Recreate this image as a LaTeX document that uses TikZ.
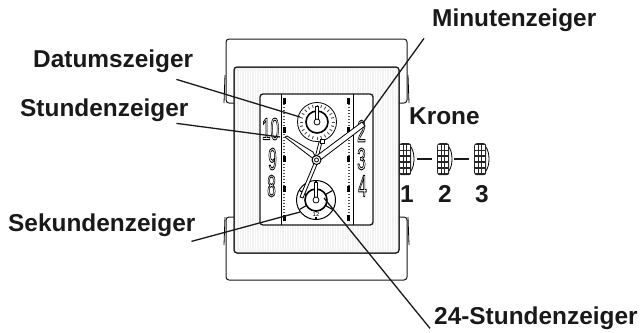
\documentclass[tikz,border=0pt]{standalone}
\usepackage{fontspec}
\setmainfont{Liberation Sans}
\usepackage{tikz}

\tikzset{
    labeltext/.style={font=\fontsize{24.4}{24.4}\bfseries\selectfont,inner sep=0pt,anchor=base west,text=black!90},
    casepart/.style={draw=black!90,line width=1pt,rounded corners=3pt,fill=white},
    handpart/.style={draw=black,line width=0.8pt,fill=white,line join=round},
    leader/.style={draw=black!90,line width=1.3pt},
    numeral/.style={font=\fontsize{31}{31}\selectfont,xscale=0.5,inner sep=0pt}
}
\newcommand{\outlined}[1]{\special{pdf:code q 1 Tr 1 w}#1\special{pdf:code Q}}

\begin{document}
\begin{tikzpicture}[x=1pt,y=-1pt]

        \useasboundingbox (0,0) rectangle (642,332);

        % straps
        \path[draw=black,line width=0.8pt] (225,75) -- (224,103);
        \path[draw=black,line width=0.8pt] (408,75) -- (409,103);
        \path[draw=black,line width=0.8pt] (225,217) -- (224,245);
        \path[draw=black,line width=0.8pt] (408,217) -- (409,245);
        \path[casepart] (226,39) rectangle (407,103);
        \path[casepart] (226,217) rectangle (407,280);

        % case with brushed surface
        \path[casepart,fill=black!5] (234,67) rectangle (399,253);
        \foreach \x in {236.5,239,...,397} {
            \path[draw=white,line width=0.8pt] (\x,70) -- (\x,250);
        }
        \path[casepart,fill=none] (234,67) rectangle (399,253);

        % dial
        \path[casepart,line width=1.3pt] (260,94) rectangle (373,225);
        \path[draw=black,line width=0.8pt] (281,94) -- (281,225);
        \path[draw=black,line width=0.8pt] (353,94) -- (353,225);
        \foreach \x in {284,348.5} {
            \foreach \y in {104,107,...,216} {
                \path[fill=black!70] (\x-1,\y-0.4) rectangle (\x+1,\y+0.4);
            }
            \foreach \y in {101,130,159,189,218} {
                \path[fill=black] (\x-1.5,\y-3) rectangle (\x+1.5,\y+3);
            }
        }

        \node[numeral] (tennum) at (270.5,129) {\outlined{10}};
        \node[numeral] (ninenum) at (272.5,159) {\outlined{9}};
        \node[numeral] (eightnum) at (271.5,186) {\outlined{8}};
        \node[numeral] (twonum) at (361.5,131) {\outlined{2}};
        \node[numeral] (threenum) at (361.5,159) {\outlined{3}};
        \node[numeral] (fournum) at (362.5,186) {\outlined{4}};

        % date dial
        \node[shape=circle,draw=black,line width=0.8pt,fill=white,minimum size=39pt,inner sep=0pt] (datedial) at (317,122) {};
        \foreach \a in {0,15,...,345} {
            \path[draw=black!70,line width=0.9pt] (317,122) ++(\a:14.5) -- ++(\a:3);
        }
        \node[shape=circle,draw=black,line width=1.6pt,fill=white,minimum size=22pt,inner sep=0pt] (dateinner) at (317,122) {};
        \path[handpart] (315.5,106) -- (318.5,106) -- (318.5,119) -- (315.5,119) -- cycle;
        \node[shape=circle,handpart,minimum size=6pt,inner sep=0pt] (datehub) at (317,122) {};

        % 24 hour dial
        \node[shape=circle,draw=black,line width=1pt,fill=white,minimum size=39pt,inner sep=0pt] (hourdial) at (316,200) {};
        \foreach \a in {30,90,150,210,270,330} {
            \path[draw=black,line width=1.1pt] (316,200) ++(\a:11) -- ++(\a:8);
        }
        \node[font=\fontsize{6}{6}\selectfont,inner sep=0pt,fill=white] (twelve) at (316,214.5) {12};
        \node[shape=circle,draw=black,line width=1.6pt,fill=white,minimum size=22pt,inner sep=0pt] (hourinner) at (316,200) {};
        \path[handpart] (314.5,182) -- (317.5,182) -- (317.5,197) -- (314.5,197) -- cycle;
        \node[shape=circle,handpart,minimum size=6pt,inner sep=0pt] (hourhub) at (316,200) {};

        % hands
        \path[handpart] (319,142) -- (322,142) -- (318,158) -- (315,158) -- cycle;
        \path[handpart] (320,139) rectangle (324,143);
        \path[handpart] (315,161) -- (318,162) -- (303,198) -- (300,197) -- cycle;
        \path[handpart] (285,137) -- (287,136) -- (313,152) -- (317,160) -- (311,157) -- cycle;
        \path[handpart] (362,122) -- (365,126) -- (319,161) -- (315,157) -- cycle;
        \node[shape=circle,handpart,line width=1pt,minimum size=9pt,inner sep=0pt] (centre) at (316.5,160) {};
        \node[shape=circle,handpart,minimum size=4pt,inner sep=0pt] (centrepin) at (316.5,160) {};

        % crown positions
        \foreach \x/\name in {399/crownone,437/crowntwo,474/crownthree} {
            \path[draw=black,line width=0.8pt] (\x+12,147) .. controls (\x+16,153) and (\x+16,165) .. (\x+12,171);
            \node[fill=black!85,rounded corners=2.5pt,minimum width=12pt,minimum height=32pt,inner sep=0pt,anchor=north west] (\name) at (\x,143) {};
            \foreach \c in {1.3,4.8,8.3} {
                \foreach \y in {145.3,151.1,156.9,162.7,168.5} {
                    \path[fill=white] (\x+\c,\y) rectangle (\x+\c+2.6,\y+4.2);
                }
            }
        }
        \path[draw=black!90,line width=1.6pt] (417,159) -- (432,159);
        \path[draw=black!90,line width=1.6pt] (454,159) -- (469,159);

        % labels
        \node[labeltext] (datum) at (33,67) {Datumszeiger};
        \node[labeltext] (stunde) at (20,116) {Stundenzeiger};
        \node[labeltext] (sekunde) at (8,231) {Sekundenzeiger};
        \node[labeltext] (minute) at (432,26) {Minutenzeiger};
        \node[labeltext] (krone) at (409,124) {Krone};
        \node[labeltext] (tagstunde) at (434,324) {24-Stundenzeiger};
        \node[labeltext] (posone) at (400,202) {1};
        \node[labeltext] (postwo) at (438,202) {2};
        \node[labeltext] (posthree) at (475,202) {3};

        % leader ends
        \coordinate (datumend) at (300,117);
        \coordinate (stundeend) at (280,137);
        \coordinate (sekundeend) at (300,212);
        \coordinate (minuteend) at (363,123);
        \coordinate (tagstundeend) at (324,198);

        \path[leader] ([xshift=-17pt,yshift=-7pt]datum.south east) -- (datumend);
        \path[leader] ([xshift=-12pt,yshift=-2pt]stunde.south east) -- (stundeend);
        \path[leader] ([xshift=-4pt,yshift=-5pt]sekunde.south east) -- (sekundeend);
        \path[leader] ([xshift=-8pt,yshift=-7pt]minute.south west) -- (minuteend);
        \path[leader] ([xshift=-4pt,yshift=1pt]tagstunde.south west) -- (tagstundeend);

    \end{tikzpicture}
\end{document}
